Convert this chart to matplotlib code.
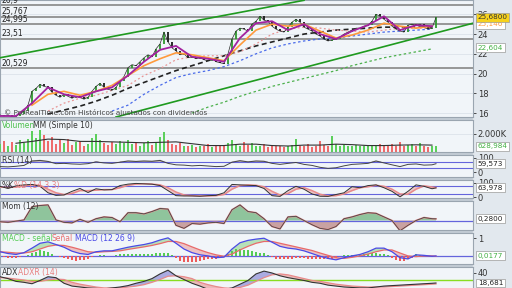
import numpy as np
import matplotlib
matplotlib.use('Agg')
import matplotlib.pyplot as plt
from matplotlib.patches import Rectangle

W, H = 512, 288
PW = 473  # ancho de la zona de paneles (px)

# ---- precio (cierre, una barra cada 4 px) ----
close = [15.8, 15.7, 15.8, 15.6, 15.7, 15.9, 16.2, 16.8,
         18.2, 18.5, 18.9, 18.7, 18.6, 18.1, 17.8, 17.6,
         17.9, 17.7, 17.5, 17.7, 17.6, 17.4, 17.6, 18.2,
         18.7, 19.0, 18.6, 18.4, 18.3, 18.6, 19.2, 19.7,
         20.6, 20.9, 20.8, 21.2, 21.6, 21.9, 21.7, 22.5,
         23.0, 24.2, 23.2, 22.6, 22.3, 21.9, 22.0, 21.6,
         21.7, 21.5, 21.6, 21.4, 21.3, 21.5, 21.2, 21.1,
         21.0, 22.0, 23.5, 24.3, 24.6, 24.5, 24.3, 25.0,
         25.3, 25.8, 25.4, 25.3, 24.8, 24.5, 24.3, 24.2,
         24.7, 25.2, 25.5, 25.2, 24.7, 24.5, 24.3, 24.0,
         23.8, 23.5, 23.3, 23.4, 23.5, 23.7, 24.0, 24.2,
         24.4, 24.6, 24.6, 24.8, 24.9, 25.3, 26.0, 25.8,
         25.5, 25.2, 24.8, 24.5, 24.3, 24.2, 24.9, 25.0,
         24.9, 25.0, 24.7, 24.5, 24.6, 25.68]

volume = [900, 1200, 700, 1100, 800, 1300, 1000, 1400,
          2300, 1500, 2400, 1800, 1200, 1600, 900, 1300,
          1000, 1400, 800, 1100, 1200, 700, 900, 1500,
          1900, 1300, 1000, 800, 1100, 900, 1200, 1000,
          1300, 900, 1100, 700, 1000, 1200, 800, 1100,
          1600, 2200, 1300, 900, 800, 1000, 700, 600,
          800, 500, 700, 600, 900, 500, 700, 600,
          800, 1000, 1300, 900, 700, 1100, 800, 1000,
          700, 600, 900, 500, 800, 600, 700, 500,
          600, 800, 1400, 700, 600, 900, 500, 700,
          1200, 800, 600, 1700, 900, 700, 800, 600,
          700, 800, 600, 700, 800, 600, 700, 900,
          800, 700, 900, 600, 1100, 700, 800, 900,
          700, 1000, 600, 500, 700, 629]

macd_hist = [0, -0.05, -0.07, -0.08, -0.08, -0.05, 0.0, 0.05,
             0.2, 0.25, 0.32, 0.3, 0.25, 0.15, 0.03, -0.05,
             -0.1, -0.18, -0.22, -0.24, -0.23, -0.2, -0.15, -0.05,
             0.03, 0.05, 0.05, 0.04, 0.03, 0.05, 0.1, 0.1,
             0.12, 0.13, 0.13, 0.13, 0.13, 0.14, 0.15, 0.17,
             0.2, 0.2, 0.2, 0.05, -0.1, -0.25, -0.3, -0.32,
             -0.32, -0.3, -0.27, -0.22, -0.18, -0.16, -0.16, -0.1,
             -0.05, 0.15, 0.28, 0.38, 0.4, 0.36, 0.33, 0.3,
             0.23, 0.2, 0.18, 0.05, -0.04, -0.15, -0.17, -0.18,
             -0.17, -0.15, -0.12, -0.12, -0.12, -0.15, -0.17, -0.18,
             -0.18, -0.17, -0.17, -0.14, -0.12, 0.04, 0.06, 0.08,
             0.08, 0.08, 0.08, 0.1, 0.13, 0.17, 0.2, 0.15,
             0.1, 0.05, -0.1, -0.2, -0.26, -0.25, -0.17, -0.1,
             0.1, 0.06, 0.03, 0.02, 0.0, 0.018]

# ---- medias moviles (un punto cada 16 px) ----
nan = np.nan
ma_purple = [15.7, 15.7, 17.0, 18.6, 17.9, 17.6, 18.2, 18.6, 19.8, 21.2, 22.4, 22.8, 21.7, 21.5,
             21.2, 23.6, 25.1, 25.3, 24.4, 25.0, 24.0, 23.5, 24.3, 24.9, 25.8, 24.4, 24.9, 24.8]
ma_orange = [nan, nan, 16.8, 17.9, 18.2, 17.8, 18.2, 18.8, 19.8, 20.8, 21.5, 22.1, 21.9, 21.6,
             21.3, 22.9, 24.4, 25.0, 24.8, 25.0, 24.3, 23.6, 23.9, 24.4, 25.1, 24.8, 24.6, 24.8]
ma_pink = [nan, nan, nan, 16.2, 17.0, 17.5, 17.8, 18.3, 18.8, 19.8, 20.5, 21.4, 21.7, 21.8,
           21.8, 22.2, 23.0, 24.0, 24.5, 24.7, 24.6, 24.4, 24.3, 24.2, 24.4, 24.6, 24.6, 24.6]
ma_black = [nan, nan, nan, 15.9, 16.3, 16.7, 17.2, 17.8, 18.5, 19.1, 19.7, 20.3, 20.8, 21.3,
            21.8, 22.3, 22.8, 23.2, 23.6, 24.0, 24.2, 24.4, 24.5, 24.6, 24.7, 24.7, 24.7, 24.7]
ma_blue = [nan, nan, nan, nan, nan, nan, nan, 16.2, 16.8, 17.9, 18.8, 19.6, 20.0, 20.3,
           20.7, 21.3, 22.0, 22.6, 23.0, 23.3, 23.5, 23.6, 23.8, 24.0, 24.2, 24.3, 24.4, 24.5]
ma_green = [nan, nan, nan, nan, nan, nan, nan, nan, nan, nan, nan, nan, 16.0, 16.6,
            17.1, 17.7, 18.2, 18.7, 19.1, 19.5, 19.9, 20.3, 20.8, 21.2, 21.6, 21.9, 22.2, 22.5]
vol_ma = [nan, 950, 1150, 1400, 1350, 1150, 1150, 1100, 1050, 1000, 1050, 1100, 900, 700,
          700, 850, 850, 700, 650, 750, 750, 850, 800, 700, 700, 750, 780, 750]

# ---- canales y niveles ----
upper_x, upper_y = [0, 76], [21.6, 27.42]
lower_x, lower_y = [29, 118.25], [15.6, 25.1]
levels = [26.9, 25.767, 24.995, 23.51, 20.529]
level_labels = ['26,9', '25,767', '24,995', '23,51', '20,529']

# ---- indicadores (un punto cada 8 px + ultimo) ----
rsi = [40, 38, 42, 48, 78, 82, 75, 60, 62, 58, 56, 60, 72, 65, 62, 70, 78, 75, 78, 76,
       82, 62, 52, 50, 45, 48, 44, 40, 42, 70, 80, 72, 78, 76, 62, 55, 62, 68, 55, 48,
       35, 28, 32, 45, 55, 58, 62, 78, 65, 52, 40, 55, 58, 50, 52, 59.6]
stoch_k = [75, 60, 78, 85, 88, 75, 30, 12, 15, 40, 60, 32, 58, 50, 52, 80, 90, 95, 92, 90,
           80, 45, 10, 8, 8, 6, 10, 12, 30, 88, 85, 82, 80, 60, 10, 5, 45, 75, 55, 22,
           6, 5, 18, 30, 72, 65, 80, 85, 65, 40, 2, 40, 85, 75, 58, 64]
stoch_d = [70, 68, 70, 78, 85, 82, 55, 30, 18, 25, 45, 45, 48, 52, 52, 65, 82, 90, 93, 90,
           85, 65, 35, 15, 10, 8, 8, 10, 18, 55, 80, 85, 82, 72, 40, 15, 25, 55, 65, 45,
           20, 8, 10, 22, 45, 65, 72, 82, 75, 55, 22, 20, 55, 78, 70, 66]
mom = [-0.2, -0.3, -0.1, 0.1, 2.3, 2.5, 2.6, 0.1, -0.3, -0.4, 0.2, -0.3, 0.3, 0.6, 0.5, -0.2,
       1.3, 1.3, 1.1, 1.5, 2.0, 1.9, -0.8, -1.3, -0.5, -0.6, -0.4, -0.3, -0.5, 1.8, 2.6, 1.5,
       1.3, 0.3, -1.0, -1.4, 0.6, 0.7, 0.0, -0.7, -1.3, -1.5, -1.0, 0.3, 0.6, 1.0, 1.3, 1.2,
       0.6, 0.0, -1.7, -0.8, 0.0, 0.5, 0.3, 0.28]
macd = [0.25, 0.15, 0.10, 0.20, 0.45, 0.72, 0.80, 0.65, 0.50, 0.28, 0.15, 0.10, 0.25, 0.30,
        0.30, 0.40, 0.50, 0.58, 0.65, 0.75, 0.90, 1.02, 0.72, 0.40, 0.20, 0.08, 0.02, -0.08,
        -0.05, 0.40, 0.75, 0.88, 0.95, 1.00, 0.78, 0.55, 0.45, 0.40, 0.30, 0.15, 0.0, -0.12,
        -0.20, -0.08, 0.02, 0.10, 0.25, 0.45, 0.45, 0.25, -0.08, -0.15, 0.08, 0.05, 0.0, 0.0177]
signal = [0.25, 0.22, 0.18, 0.18, 0.25, 0.40, 0.55, 0.62, 0.60, 0.50, 0.38, 0.25, 0.22, 0.25,
          0.27, 0.30, 0.38, 0.45, 0.52, 0.60, 0.70, 0.82, 0.82, 0.70, 0.52, 0.35, 0.20, 0.08,
          0.0, 0.12, 0.35, 0.55, 0.72, 0.82, 0.82, 0.72, 0.62, 0.52, 0.42, 0.32, 0.18, 0.05,
          -0.08, -0.12, -0.06, 0.02, 0.12, 0.25, 0.35, 0.35, 0.18, 0.02, -0.02, 0.02, 0.02, 0.0]
adx = [32, 28, 22, 20, 17, 24, 32, 30, 18, 12, 10, 8, 7, 6, 8, 10, 13, 18, 22, 28,
       38, 46, 34, 26, 18, 12, 5, 4, 5, 8, 16, 24, 38, 44, 40, 34, 30, 27, 24, 20,
       18, 14, 12, 10, 9, 8, 8, 10, 12, 13, 14, 15, 16, 17, 18, 18.6]
adxr = [30, 29, 27, 25, 22, 22, 25, 27, 26, 20, 16, 13, 10, 8, 8, 8, 10, 12, 15, 20,
        26, 33, 34, 32, 28, 20, 15, 11, 8, 7, 9, 14, 22, 30, 36, 38, 36, 32, 28, 24,
        22, 19, 16, 14, 12, 11, 10, 10, 10, 11, 12, 13, 14, 15, 16, 16.5]

idx = np.arange(len(close))
ma_x = np.arange(0, 109, 4)
ind_x = np.r_[np.arange(0, 109, 2), 109]
close = np.array(close)

fig = plt.figure(figsize=(W / 100, H / 100), dpi=100)
fig.patch.set_facecolor('#c3ccd5')
fig.patches.append(Rectangle((PW / W, 0), 1 - PW / W, 1, transform=fig.transFigure,
                             color='#e2e8ee', zorder=-1))


def panel(y0, y1):
    ax = fig.add_axes([0, 1 - y1 / H, PW / W, (y1 - y0) / H])
    ax.set_facecolor('#f1f5f9')
    ax.set_xlim(0, PW / 4)
    ax.set_xticks([])
    ax.yaxis.tick_right()
    ax.tick_params(axis='y', length=2, pad=1.5, labelsize=6, colors='#333333', width=0.6)
    for s in ax.spines.values():
        s.set_color('#9aa5b0')
        s.set_linewidth(0.8)
    return ax


def box(ax, y, txt, fc='white', tc='#222222'):
    ax.text(1.01, y, txt, transform=ax.get_yaxis_transform(), fontsize=5.2, color=tc,
            va='center', ha='left', zorder=20, clip_on=False,
            bbox=dict(boxstyle='square,pad=0.2', fc=fc, ec='#9a9a9a', lw=0.5))


def label(ax, px, txt, color='#333333'):
    ax.text(px / PW, 0.97, txt, transform=ax.transAxes, fontsize=5.5, color=color,
            va='top', ha='left', zorder=15)


# ---------- precio ----------
ax = panel(0, 117)
ax.set_ylim(15.6, 27.45)
ax.set_yticks([16, 18, 20, 22, 24, 26])
ax.grid(axis='y', color='#dce3ea', lw=0.6)
for lv, lt in zip(levels, level_labels):
    ax.axhline(lv, color='#7d7d7d', lw=1.1, zorder=2)
    ax.text(0.004, lv + 0.05, lt, fontsize=5.5, color='#222222', va='bottom',
            transform=ax.get_yaxis_transform(), zorder=15)
ax.plot(upper_x, upper_y, color='#1f9a1f', lw=1.2, zorder=3)
ax.plot(lower_x, lower_y, color='#1f9a1f', lw=1.2, zorder=3)
ax.plot(ma_x, ma_green, color='#4cb04c', lw=0.9, ls=(0, (2, 2)), zorder=3)
ax.plot(ma_x, ma_blue, color='#4a6bea', lw=0.9, ls=(0, (2, 2)), zorder=3)
ax.plot(ma_x, ma_black, color='#222222', lw=1.2, ls=(0, (3, 2)), zorder=3)
ax.plot(ma_x, ma_pink, color='#e89595', lw=0.9, ls=(0, (1.5, 2)), zorder=3)
up = np.r_[True, close[1:] >= close[:-1]]
prev = np.r_[close[0], close[:-1]]
ax.vlines(idx, prev, close, colors=np.where(up, '#2f9a2f', '#1a1a1a'), lw=1.3, zorder=4)
ax.plot(idx, close, color='#2a2a2a', lw=0.5, zorder=4)
ax.plot(ma_x, ma_orange, color='#ff9a3c', lw=1.2, zorder=5)
ax.plot(ma_x, ma_purple, color='#a3229f', lw=1.3, zorder=6)
ax.text(0.008, 15.75, '© ProRealTime.com Históricos ajustados con dividendos', fontsize=5.2,
        color='#444444', transform=ax.get_yaxis_transform(), va='bottom', zorder=15)
box(ax, 25.0, '25,146', tc='#ff9a3c')
box(ax, 25.68, '25,6800', fc='#f7d21c', tc='#333333')
box(ax, 22.604, '22,604', tc='#44b044')

# ---------- volumen ----------
ax = panel(120, 152)
ax.set_ylim(0, 3474)
ax.set_yticks([2000])
ax.set_yticklabels(['2.000K'])
ax.grid(axis='y', color='#dce3ea', lw=0.6)
ax.bar(idx, volume, width=0.5, color=np.where(up, '#5ccf5c', '#ee6b6b'), zorder=3)
ax.plot(ma_x, vol_ma, color='#333333', lw=0.8, zorder=4)
label(ax, 2, 'Volumen', '#4cc04c')
label(ax, 33, 'MM (Simple 10)')
box(ax, 629, '628,984', tc='#44b044')

# ---------- RSI ----------
ax = panel(155, 177)
ax.set_ylim(-31, 119)
ax.set_yticks([0, 100])
for lv in (70, 30):
    ax.axhline(lv, color='#6464dc', lw=0.8, zorder=2)
rsi_a = np.array(rsi, dtype=float)
ax.fill_between(ind_x, rsi_a, 70, where=rsi_a > 70, color='#b8a8a8', alpha=0.6, interpolate=True)
ax.plot(ind_x, rsi, color='#444444', lw=0.7, zorder=4)
label(ax, 2, 'RSI (14)')
box(ax, 59.6, '59,573')

# ---------- estocastico ----------
ax = panel(180, 198)
ax.set_ylim(-6.25, 118.75)
ax.set_yticks([0, 100])
for lv in (80, 20):
    ax.axhline(lv, color='#6464dc', lw=0.8, zorder=2)
ax.fill_between(ind_x, stoch_k, stoch_d, color='#eaa0a0', alpha=0.55, lw=0)
ax.plot(ind_x, stoch_d, color='#e88a8a', lw=1.1, zorder=3)
ax.plot(ind_x, stoch_k, color='#333333', lw=0.7, zorder=4)
label(ax, 2, '%K')
label(ax, 14, '%D (14 3 3)', '#e88080')
box(ax, 64, '63,978')

# ---------- momentum ----------
ax = panel(201, 230)
ax.set_ylim(-1.58, 3.25)
ax.set_yticks([])
mom_a = np.array(mom)
ax.fill_between(ind_x, mom_a, 0, where=mom_a >= 0, color='#8fc49c', interpolate=True, lw=0)
ax.fill_between(ind_x, mom_a, 0, where=mom_a < 0, color='#c9a2a2', interpolate=True, lw=0)
ax.axhline(0, color='#6464dc', lw=0.9, zorder=2)
ax.plot(ind_x, mom, color='#e89090', lw=1.2, zorder=3)
ax.plot(ind_x, mom, color='#444444', lw=0.6, zorder=4)
label(ax, 2, 'Mom (12)')
box(ax, 0.28, '0,2800')

# ---------- MACD ----------
ax = panel(233, 264)
ax.set_ylim(-0.43, 1.29)
ax.set_yticks([1])
macd_a, sig_a = np.array(macd), np.array(signal)
ax.fill_between(ind_x, macd_a, sig_a, where=macd_a >= sig_a, color='#8fd48f', alpha=0.6,
                interpolate=True, lw=0)
ax.fill_between(ind_x, macd_a, sig_a, where=macd_a < sig_a, color='#eaa0a0', alpha=0.6,
                interpolate=True, lw=0)
hist = np.array(macd_hist)
ax.bar(idx, hist, width=0.45, color=np.where(hist >= 0, '#55cc55', '#ee5a5a'), zorder=3)
ax.axhline(0, color='#6464dc', lw=0.9, zorder=2)
ax.plot(ind_x, signal, color='#e86a6a', lw=0.9, zorder=4)
ax.plot(ind_x, macd, color='#4a4ae6', lw=0.9, zorder=5)
label(ax, 2, 'MACD - señal', '#55cc55')
label(ax, 52, 'Señal', '#e87070')
label(ax, 75, 'MACD (12 26 9)', '#4a4ae6')
box(ax, 0.0177, '0,0177', tc='#44b044')

# ---------- ADX ----------
ax = panel(267, 300)
ax.set_ylim(-17.8, 52.8)
ax.set_yticks([40])
adx_a, adxr_a = np.array(adx, dtype=float), np.array(adxr, dtype=float)
ax.fill_between(ind_x, adx_a, adxr_a, where=adx_a >= adxr_a, color='#8c8cd8', alpha=0.7,
                interpolate=True, lw=0)
ax.fill_between(ind_x, adx_a, adxr_a, where=adx_a < adxr_a, color='#eaa0a0', alpha=0.7,
                interpolate=True, lw=0)
ax.axhline(25, color='#88dd22', lw=1.0, zorder=2)
ax.plot(ind_x, adxr, color='#e88a8a', lw=0.9, zorder=3)
ax.plot(ind_x, adx, color='#333333', lw=0.8, zorder=4)
label(ax, 2, 'ADX')
label(ax, 18, 'ADXR (14)', '#e88080')
box(ax, 18.6, '18,681')

fig.savefig('out.png', dpi=100, facecolor=fig.get_facecolor())
